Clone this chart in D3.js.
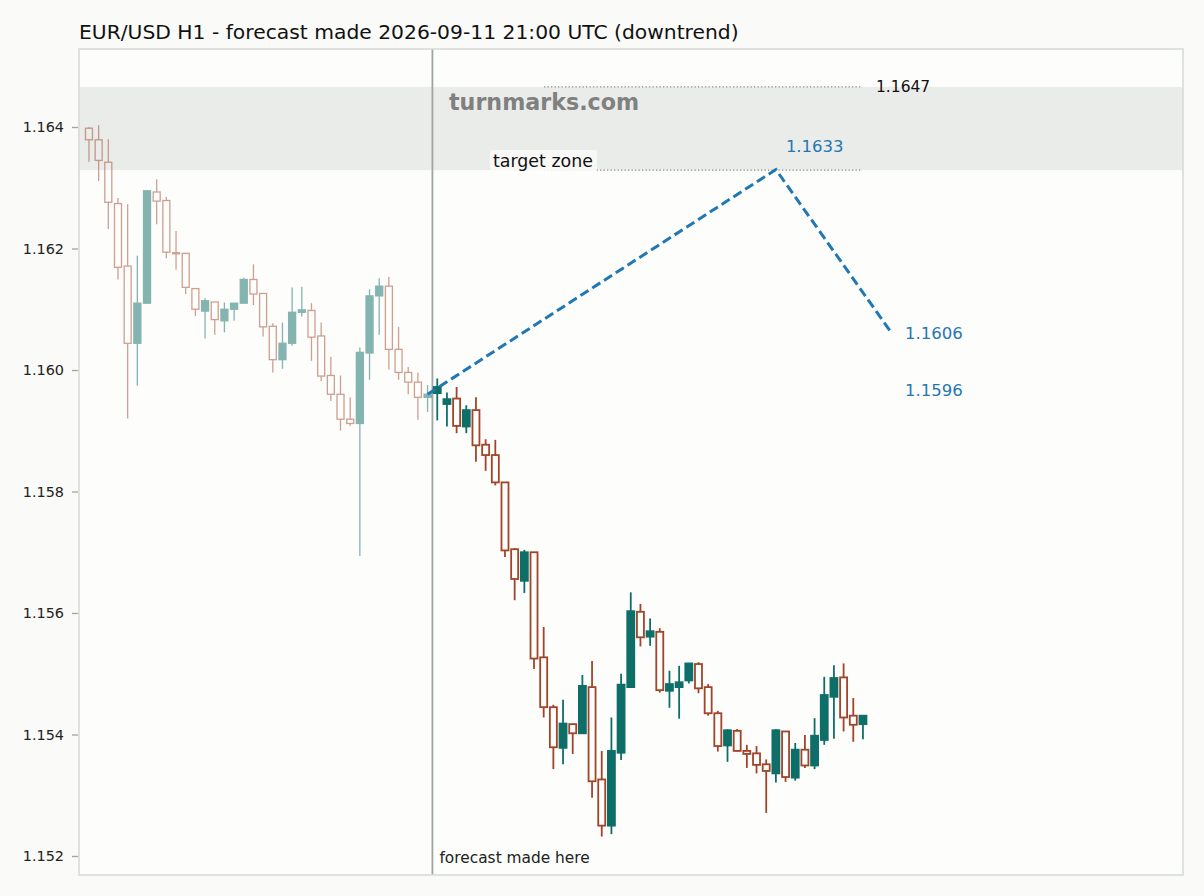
<!DOCTYPE html>
<html><head><meta charset="utf-8">
<script src="https://cdn.jsdelivr.net/npm/d3@7"></script>
<style>
html,body{margin:0;padding:0;background:#fafaf8;}
svg{display:block;font-family:"DejaVu Sans",sans-serif;}
</style></head>
<body>
<div id="chart"></div>
<script>
// ---- data ----
const title = "EUR/USD H1 - forecast made 2026-09-11 21:00 UTC (downtrend)";
const histOpen  = [1.16398,1.16379,1.16342,1.16274,1.16171,1.16044,1.16110,1.16293,1.16279,1.16193,1.16192,1.16134,1.16097,1.16112,1.16081,1.16100,1.16110,1.16149,1.16126,1.16072,1.16017,1.16044,1.16095,1.16098,1.16056,1.15991,1.15960,1.15919,1.15912,1.16028,1.16122,1.16138,1.16034,1.15996,1.15980,1.15955];
const histHigh  = [1.16400,1.16403,1.16380,1.16283,1.16273,1.16188,1.16295,1.16314,1.16285,1.16229,1.16192,1.16134,1.16118,1.16112,1.16111,1.16110,1.16152,1.16174,1.16126,1.16077,1.16078,1.16136,1.16137,1.16110,1.16078,1.16022,1.15991,1.15955,1.16037,1.16133,1.16151,1.16153,1.16071,1.16005,1.15996,1.15975];
const histLow   = [1.16343,1.16311,1.16232,1.16149,1.15920,1.15974,1.16110,1.16240,1.16184,1.16165,1.16125,1.16089,1.16052,1.16058,1.16062,1.16081,1.16110,1.16107,1.16055,1.15996,1.16002,1.16040,1.16088,1.16015,1.15982,1.15949,1.15900,1.15908,1.15694,1.15984,1.16058,1.16001,1.15984,1.15960,1.15918,1.15931];
const histClose = [1.16379,1.16345,1.16276,1.16169,1.16044,1.16110,1.16295,1.16278,1.16194,1.16192,1.16136,1.16100,1.16114,1.16083,1.16100,1.16110,1.16149,1.16125,1.16071,1.16017,1.16044,1.16095,1.16099,1.16054,1.15990,1.15960,1.15919,1.15912,1.16029,1.16122,1.16138,1.16034,1.15996,1.15980,1.15955,1.15960];

const fcOpen  = [1.15962,1.15944,1.15953,1.15907,1.15934,1.15877,1.15860,1.15815,1.15705,1.15653,1.15700,1.15527,1.15445,1.15378,1.15417,1.15402,1.15478,1.15326,1.15250,1.15370,1.15478,1.15602,1.15561,1.15569,1.15472,1.15478,1.15489,1.15516,1.15478,1.15435,1.15382,1.15406,1.15373,1.15369,1.15351,1.15336,1.15405,1.15329,1.15375,1.15349,1.15391,1.15462,1.15494,1.15431,1.15417];
const fcHigh  = [1.15986,1.15963,1.15972,1.15942,1.15955,1.15886,1.15885,1.15815,1.15707,1.15704,1.15700,1.15577,1.15449,1.15457,1.15418,1.15498,1.15521,1.15373,1.15428,1.15500,1.15634,1.15615,1.15591,1.15575,1.15505,1.15513,1.15517,1.15519,1.15483,1.15439,1.15409,1.15409,1.15383,1.15381,1.15359,1.15409,1.15405,1.15386,1.15399,1.15427,1.15495,1.15514,1.15517,1.15460,1.15432];
const fcLow   = [1.15917,1.15907,1.15896,1.15896,1.15849,1.15834,1.15810,1.15692,1.15621,1.15633,1.15508,1.15428,1.15343,1.15351,1.15368,1.15401,1.15296,1.15232,1.15236,1.15358,1.15478,1.15545,1.15546,1.15469,1.15444,1.15426,1.15484,1.15468,1.15431,1.15372,1.15355,1.15372,1.15345,1.15336,1.15271,1.15321,1.15322,1.15324,1.15345,1.15343,1.15383,1.15393,1.15405,1.15388,1.15392];
const fcClose = [1.15972,1.15952,1.15908,1.15934,1.15876,1.15860,1.15815,1.15703,1.15656,1.15700,1.15525,1.15445,1.15379,1.15418,1.15402,1.15480,1.15323,1.15250,1.15373,1.15482,1.15603,1.15560,1.15570,1.15473,1.15483,1.15486,1.15517,1.15476,1.15435,1.15381,1.15407,1.15373,1.15368,1.15350,1.15340,1.15407,1.15330,1.15375,1.15349,1.15398,1.15465,1.15493,1.15428,1.15416,1.15431];

const pathIdx = [35, 71, 83];
const pathVal = [1.1596, 1.1633, 1.1606];
const zoneLow = 1.16329, zoneHigh = 1.16466;
const zoneLabel = "1.1647";
const yTicks = [1.152,1.154,1.156,1.158,1.160,1.162,1.164];
const forecastIdx = 35.5;

// ---- layout ----
const W = 1204, H = 896;
const L = 79, R = 1183, T = 49, B = 875;
const svg = d3.select("#chart").append("svg").attr("width", W).attr("height", H);

const x = d3.scaleLinear().domain([-1.03, 113.08]).range([L, R]);
const y = d3.scaleLinear().domain([1.152, 1.164]).range([856, 127]);

const clipId = "plotclip";
svg.append("defs").append("clipPath").attr("id", clipId)
  .append("rect").attr("x", L).attr("y", T).attr("width", R - L).attr("height", B - T);

svg.append("rect").attr("x", L).attr("y", T).attr("width", R - L).attr("height", B - T).attr("fill", "#fdfdfb");

const g = svg.append("g").attr("clip-path", `url(#${clipId})`);

// target zone
g.append("rect").attr("x", L).attr("width", R - L)
  .attr("y", y(zoneHigh)).attr("height", y(zoneLow) - y(zoneHigh))
  .attr("fill", "#eaecea");

// forecast made here line
g.append("line").attr("x1", x(forecastIdx)).attr("x2", x(forecastIdx)).attr("y1", T).attr("y2", B)
  .attr("stroke", "#9ea6a2").attr("stroke-width", 1.8);

// candles
const hist = histOpen.map((o, i) => ({i, o, h: histHigh[i], l: histLow[i], c: histClose[i]}));
const fc = fcOpen.map((o, k) => ({i: 36 + k, o, h: fcHigh[k], l: fcLow[k], c: fcClose[k]}));
const bear = "#a0442a", bull = "#0e6e68";
const bw = 7;

function drawCandles(data, opacity, sw) {
  const cg = g.append("g").attr("opacity", opacity);
  const sel = cg.selectAll("g.c").data(data).enter().append("g");
  sel.append("line")
    .attr("x1", d => x(d.i)).attr("x2", d => x(d.i))
    .attr("y1", d => y(d.h)).attr("y2", d => y(Math.max(d.o, d.c)))
    .attr("stroke", d => d.c >= d.o ? bull : bear).attr("stroke-width", sw);
  sel.append("line")
    .attr("x1", d => x(d.i)).attr("x2", d => x(d.i))
    .attr("y1", d => y(Math.min(d.o, d.c))).attr("y2", d => y(d.l))
    .attr("stroke", d => d.c >= d.o ? bull : bear).attr("stroke-width", sw);
  sel.append("rect")
    .attr("x", d => x(d.i) - bw / 2)
    .attr("width", bw)
    .attr("y", d => y(Math.max(d.o, d.c)))
    .attr("height", d => Math.max(1, y(Math.min(d.o, d.c)) - y(Math.max(d.o, d.c))))
    .attr("fill", d => d.c >= d.o ? bull : "none")
    .attr("stroke", d => d.c >= d.o ? bull : bear)
    .attr("stroke-width", sw);
}
drawCandles(hist, 0.5, 1.3);
drawCandles(fc, 1, 1.8);

// dotted zone guide lines
[zoneHigh, zoneLow].forEach(v => {
  g.append("line").attr("x1", 544).attr("x2", 861).attr("y1", y(v)).attr("y2", y(v))
    .attr("stroke", "#8a8a8a").attr("stroke-width", 1.3).attr("stroke-dasharray", "1.3,2.2");
});

// watermark
g.append("text").attr("x", 449).attr("y", 102).attr("dy", "0.35em")
  .attr("font-size", 22.2).attr("font-weight", "bold").attr("fill", "#808080").text("turnmarks.com");

// target zone label
const tz = g.append("g");
tz.append("rect").attr("x", 490).attr("y", 150).attr("width", 107).attr("height", 21).attr("rx", 2)
  .attr("fill", "#f9f9f7").attr("opacity", 0.9);
tz.append("text").attr("x", 493).attr("y", 161).attr("dy", "0.35em")
  .attr("font-size", 17.4).attr("fill", "#111").text("target zone");

// forecast path
const line = d3.line().x((d, k) => x(pathIdx[k])).y(d => y(d));
g.append("path").datum(pathVal).attr("d", line)
  .attr("fill", "none").attr("stroke", "#1f77b4").attr("stroke-width", 3)
  .attr("stroke-dasharray", "9.5,4.5");

// labels
svg.append("text").attr("x", 876).attr("y", y(zoneHigh)).attr("dy", "0.35em")
  .attr("font-size", 15.5).attr("fill", "#111").text(zoneLabel);
svg.append("text").attr("x", x(pathIdx[1]) + 10).attr("y", y(pathVal[1]) - 23).attr("dy", "0.35em")
  .attr("font-size", 16.5).attr("fill", "#1f77b4").text(pathVal[1].toFixed(4));
svg.append("text").attr("x", x(pathIdx[2]) + 13).attr("y", y(pathVal[2])).attr("dy", "0.35em")
  .attr("font-size", 16.5).attr("fill", "#1f77b4").text(pathVal[2].toFixed(4));
svg.append("text").attr("x", x(pathIdx[2]) + 13).attr("y", y(pathVal[0]) - 4).attr("dy", "0.35em")
  .attr("font-size", 16.5).attr("fill", "#1f77b4").text(pathVal[0].toFixed(4));

svg.append("text").attr("x", x(forecastIdx) + 7).attr("y", 858).attr("dy", "0.35em")
  .attr("font-size", 15.4).attr("fill", "#222").text("forecast made here");

// frame
svg.append("rect").attr("x", L).attr("y", T).attr("width", R - L).attr("height", B - T)
  .attr("fill", "none").attr("stroke", "#d8dcd8").attr("stroke-width", 1.6);

// y axis
const ax = svg.append("g").attr("transform", `translate(${L},0)`)
  .call(d3.axisLeft(y).tickValues(yTicks).tickFormat(d3.format(".3f")).tickSize(7).tickPadding(8));
ax.select(".domain").remove();
ax.selectAll(".tick line").attr("stroke", "#9ea6a2").attr("stroke-width", 1.3).attr("x1", -1);
ax.selectAll(".tick text").attr("font-size", 14.4).attr("fill", "#222").attr("font-family", "DejaVu Sans");

// title
svg.append("text").attr("x", L).attr("y", 32).attr("dy", "0.35em")
  .attr("font-size", 20.3).attr("fill", "#111").text(title);
</script>
</body></html>
